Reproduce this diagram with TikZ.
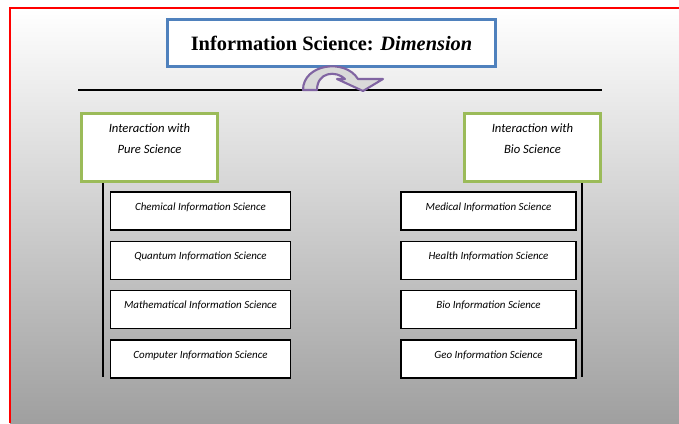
\documentclass[tikz,border=0pt]{standalone}
\usepackage{fontspec}
\setmainfont{Liberation Serif}
\newfontfamily\boxfont{Carlito}
\usepackage{xcolor}
\usetikzlibrary{shapes,calc,positioning}
\definecolor{titleblue}{HTML}{4F81BD}
\definecolor{groupgreen}{HTML}{9BBB59}
\definecolor{turnpurple}{HTML}{8064A2}

\begin{document}
\begin{tikzpicture}[x=0.025cm,y=-0.025cm]
	\tikzstyle{tbox}=[rectangle, draw=titleblue, line width=2pt, fill=white, minimum width=8.2cm, minimum height=1.175cm, font=\fontsize{14.5}{17}\selectfont\bfseries]
	\tikzstyle{gbox}=[rectangle, draw=groupgreen, line width=2.2pt, fill=white, minimum width=3.4cm, minimum height=1.7cm]
	\tikzstyle{gtext}=[align=center, anchor=north, inner sep=0pt, font=\boxfont\itshape\fontsize{9}{15}\selectfont]
	\tikzstyle{sbox}=[rectangle, draw=black, line width=0.9pt, fill=white, minimum height=0.95cm, inner sep=0pt, text height=13pt, text depth=14pt, font=\boxfont\itshape\fontsize{7.8}{9}\selectfont]
	% page
	\useasboundingbox (0,0) rectangle (679,423);
	\shade[top color=white, bottom color=gray!75] (10,8) rectangle (679,423);
	\draw[red, line width=1.4pt] (10,423) -- (10,8) -- (679,8);
	% title
	\node[tbox] (title) at (331.5,43) {Information Science: \textit{Dimension}};
	\draw[black, line width=0.8pt] (78,90) -- (602,90);
	\filldraw[draw=turnpurple, fill=gray!30, line width=1.5pt, line join=round]
		(303,90) .. controls (303,64) and (345,58) .. (358,79) -- (383,79) -- (363,91) -- (337,79) -- (345,79)
		.. controls (336,70) and (317,72) .. (317,90) -- cycle;
	% groups
	\node[gbox] (pure) at (149.5,147.5) {};
	\node[gtext] at ([yshift=-0.29cm]pure.north) {Interaction with\\Pure Science};
	\node[gbox] (bio) at (532.5,147.5) {};
	\node[gtext] at ([yshift=-0.29cm]bio.north) {Interaction with\\Bio Science};
	\coordinate (pureend) at (103,377);
	\coordinate (bioend) at (582,377);
	\draw[line width=0.9pt] (pure.south -| pureend) -- (pureend);
	\draw[line width=0.9pt] (bio.south -| bioend) -- (bioend);
	% fields
	\foreach \name/\txt [count=\i] in {chem/Chemical Information Science, quant/Quantum Information Science, math/Mathematical Information Science, comp/Computer Information Science}
		\node[sbox, minimum width=4.5cm] (\name) at (200.5,{211+49.3*(\i-1)}) {\txt};
	\foreach \name/\txt [count=\i] in {med/Medical Information Science, health/Health Information Science, bioinf/Bio Information Science, geo/Geo Information Science}
		\node[sbox, minimum width=4.375cm] (\name) at (488.5,{211+49.3*(\i-1)}) {\txt};
\end{tikzpicture}
\end{document}
